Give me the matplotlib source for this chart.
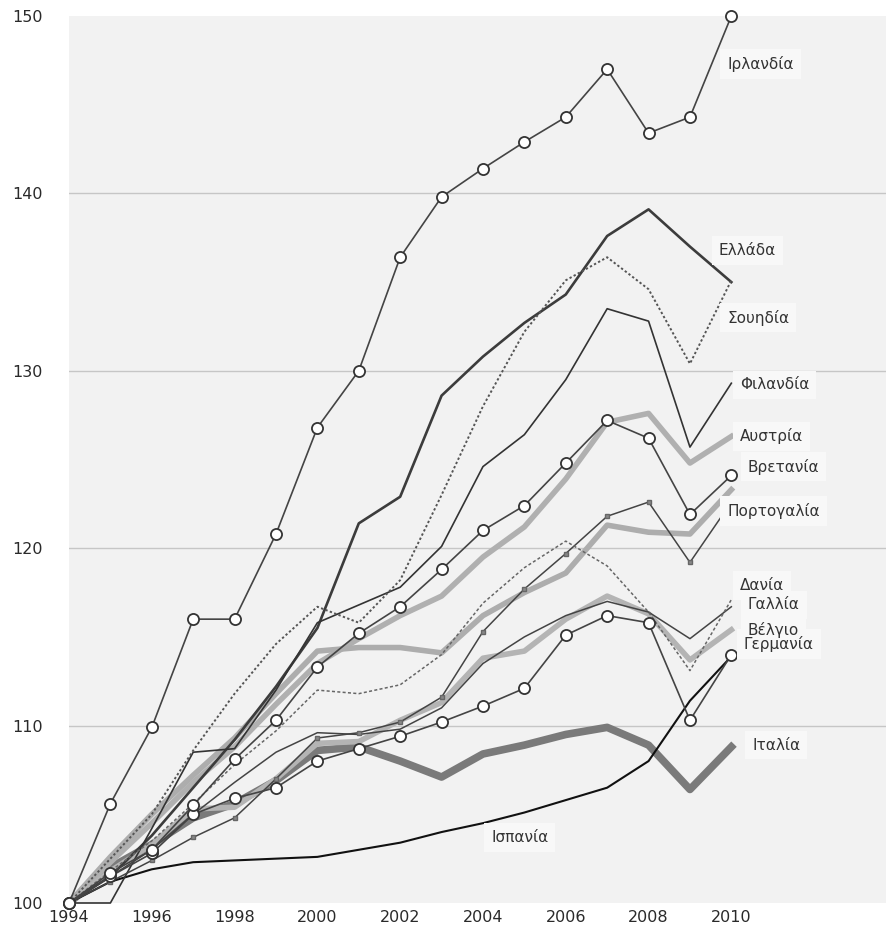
import matplotlib
matplotlib.use('Agg')
import matplotlib.pyplot as plt

years = list(range(1994, 2011))

ireland  = [100, 105.6, 109.9, 116.0, 116.0, 120.8, 126.8, 130.0, 136.4, 139.8, 141.4, 142.9, 144.3, 147.0, 143.4, 144.3, 150.0]
greece   = [100, 101.5, 103.8, 106.5, 109.2, 112.2, 115.5, 121.4, 122.9, 128.6, 130.8, 132.7, 134.3, 137.6, 139.1, 137.0, 135.0]
sweden   = [100, 102.5, 105.0, 108.6, 111.8, 114.6, 116.7, 115.8, 118.2, 123.0, 128.0, 132.2, 135.1, 136.4, 134.6, 130.4, 135.1]
finland  = [100, 100.0, 104.2, 108.5, 108.7, 112.0, 115.8, 116.8, 117.8, 120.1, 124.6, 126.4, 129.5, 133.5, 132.8, 125.7, 129.3]
austria  = [100, 102.3, 104.5, 106.8, 108.8, 111.2, 113.5, 114.9, 116.2, 117.3, 119.5, 121.2, 123.9, 127.1, 127.6, 124.8, 126.3]
britain  = [100, 101.7, 103.0, 105.5, 108.1, 110.3, 113.3, 115.2, 116.7, 118.8, 121.0, 122.4, 124.8, 127.2, 126.2, 121.9, 124.1]
other    = [100, 102.6, 105.0, 107.2, 109.3, 111.8, 114.2, 114.4, 114.4, 114.1, 116.2, 117.5, 118.6, 121.3, 120.9, 120.8, 123.3]
portugal = [100, 101.2, 102.4, 103.7, 104.8, 107.0, 109.3, 109.6, 110.2, 111.6, 115.3, 117.7, 119.7, 121.8, 122.6, 119.2, 122.6]
denmark  = [100, 101.8, 103.5, 105.6, 107.8, 109.7, 112.0, 111.8, 112.3, 114.0, 116.9, 118.9, 120.4, 119.0, 116.4, 113.1, 117.1]
france   = [100, 101.5, 103.0, 105.0, 106.8, 108.5, 109.6, 109.5, 109.8, 111.0, 113.5, 115.0, 116.2, 117.0, 116.4, 114.9, 116.7]
belgium  = [100, 101.8, 103.3, 105.3, 105.4, 107.0, 109.0, 109.1, 110.3, 111.3, 113.8, 114.2, 116.0, 117.3, 116.3, 113.7, 115.4]
germany  = [100, 101.5, 102.8, 105.0, 105.9, 106.5, 108.0, 108.7, 109.4, 110.2, 111.1, 112.1, 115.1, 116.2, 115.8, 110.3, 114.0]
italy    = [100, 102.0, 103.3, 104.8, 105.6, 106.9, 108.6, 108.8, 108.0, 107.1, 108.4, 108.9, 109.5, 109.9, 108.9, 106.4, 108.8]
spain    = [100, 101.2, 101.9, 102.3, 102.4, 102.5, 102.6, 103.0, 103.4, 104.0, 104.5, 105.1, 105.8, 106.5, 108.0, 111.4, 113.9]

label_names = ['Ιρλανδία', 'Ελλάδα', 'Σουηδία', 'Φιλανδία', 'Αυστρία', 'Βρετανία', 'Πορτογαλία',
               'Δανία', 'Γαλλία', 'Βέλγιο', 'Γερμανία', 'Ιταλία', 'Ισπανία']
label_x = [2009.9, 2009.7, 2009.9, 2010.2, 2010.2, 2010.4, 2009.9, 2010.2, 2010.4, 2010.4, 2010.3, 2010.5, 2004.2]
label_y = [147.3, 136.8, 133.0, 129.2, 126.3, 124.6, 122.1, 117.9, 116.8, 115.4, 114.6, 108.9, 103.7]

ytick_vals = [100, 110, 120, 130, 140, 150]
xtick_vals = [1994, 1996, 1998, 2000, 2002, 2004, 2006, 2008, 2010]

plt.rcParams['font.family'] = ['DejaVu Sans']

fig = plt.figure(figsize=(8.87, 9.27), dpi=100)
ax = fig.add_axes([69 / 887, 24 / 927, 1 - 69 / 887, (903 - 16) / 927])
ax.set_facecolor('#f2f2f2')
ax.set_xlim(1994, 2013.76)
ax.set_ylim(100, 150)
for s in ax.spines.values():
    s.set_visible(False)
ax.set_yticks(ytick_vals)
ax.set_xticks(xtick_vals)
ax.tick_params(length=0, labelsize=11.5, colors='#2a2a2a')
ax.tick_params(axis='y', pad=19)
ax.tick_params(axis='x', pad=5)
for v in ytick_vals[1:-1]:
    ax.axhline(v, color='#c6c6c6', lw=1.0, zorder=1)

# thick lines
ax.plot(years, italy, color='#7a7a7a', lw=5.5, zorder=2, clip_on=False)
ax.plot(years, austria, color='#b0b0b0', lw=4, zorder=2, clip_on=False)
ax.plot(years, other, color='#adadad', lw=4, zorder=2, clip_on=False)
ax.plot(years, belgium, color='#b4b4b4', lw=4, zorder=2, clip_on=False)

# thin lines
ax.plot(years, spain, color='#111111', lw=1.5, zorder=3, clip_on=False)
ax.plot(years, greece, color='#3c3c3c', lw=1.9, zorder=3, clip_on=False)
ax.plot(years, finland, color='#333333', lw=1.2, zorder=3, clip_on=False)
ax.plot(years, france, color='#444444', lw=1.1, zorder=3, clip_on=False)
ax.plot(years, portugal, color='#444444', lw=1.1, marker='s', ms=3, mfc='#888888', mec='#666666',
        zorder=3, clip_on=False)
ax.plot(years, sweden, color='#555555', lw=1.4, ls=(0, (1.2, 1.2)), zorder=3, clip_on=False)
ax.plot(years, denmark, color='#666666', lw=1.1, ls=(0, (2, 1.5)), zorder=3, clip_on=False)

# circle-marker lines
for series in (germany, britain, ireland):
    ax.plot(years, series, color='#444444', lw=1.2, marker='o', ms=8, mfc='white', mec='#333333',
            mew=1.3, zorder=4, clip_on=False)

# label boxes first, then the label texts on top of all boxes
for name, lx, ly in zip(label_names, label_x, label_y):
    ax.text(lx, ly, name, fontsize=11, color='none', va='center', ha='left', zorder=5,
            bbox=dict(boxstyle='square,pad=0.45', facecolor='#f8f8f8', edgecolor='none'))
for name, lx, ly in zip(label_names, label_x, label_y):
    ax.text(lx, ly, name, fontsize=11, color='#333333', va='center', ha='left', zorder=6)

fig.savefig('out.png', dpi=100)
